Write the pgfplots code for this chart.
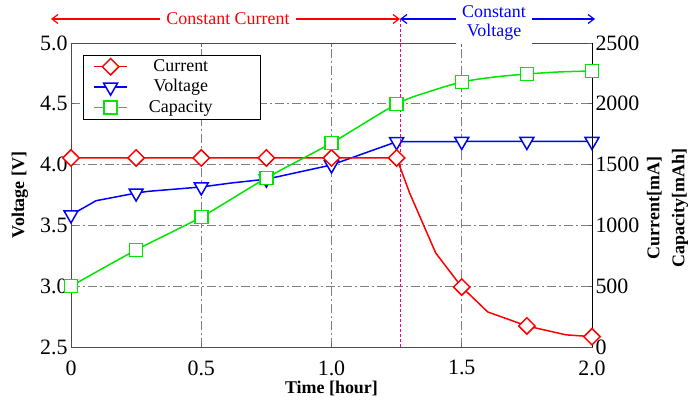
\documentclass[border=0pt]{standalone}
\usepackage{fontspec}
\setmainfont{Liberation Serif}
\usepackage{pgfplots}
\usepackage{pgfplotstable}
\pgfplotsset{compat=1.18}
\usetikzlibrary{arrows.meta}

\pgfplotstableread{
t I
0 1555
0.25 1555
0.5 1555
0.75 1555
1.0 1555
1.25 1555
1.30 1266
1.40 773
1.50 493
1.60 288
1.75 173
1.90 100
2.00 85
}\currentdata

\pgfplotstableread{
t V
0 3.586
0.096 3.703
0.25 3.766
0.296 3.78
0.5 3.816
0.62 3.85
0.75 3.88
1.0 3.997
1.25 4.188
1.5 4.19
1.75 4.19
2.0 4.19
}\voltagedata

\pgfplotstableread{
t C
0 500
0.25 798
0.5 1069
0.75 1390
1.0 1678
1.25 1998
1.375 2100
1.5 2179
1.625 2220
1.75 2245
1.875 2262
2.0 2270
}\capacitydata

\definecolor{mygreen}{RGB}{0,230,0}

\begin{document}
\begin{tikzpicture}
\useasboundingbox (-71bp,-55bp) rectangle (617bp,347bp);
\pgfplotsset{
  common/.style={
    at={(0,0)}, anchor=south west,
    scale only axis, width=521bp, height=304bp,
    xmin=0, xmax=2,
    major tick length=4bp,
    tick style={black!60, line width=0.6bp},
    ticklabel style={font=\fontsize{22}{22}\selectfont},
    /pgf/number format/assume math mode=true,
    /pgf/number format/1000 sep={},
    scaled ticks=false,
    label style={font=\fontsize{18}{25}\selectfont\bfseries},
  }
}
\begin{axis}[common,
  ymin=2.5, ymax=5,
  xtick={0,0.5,1,1.5,2}, xticklabels={0,0.5,1.0,1.5,2.0},
  xticklabel style={yshift=-10bp},
  ytick={2.5,3,3.5,4,4.5,5}, yticklabels={2.5,3.0,3.5,4.0,4.5,5.0},
  ytick pos=left,
  axis line style={black!70, line width=0.9bp},
  grid=major,
  grid style={gray, line width=0.8bp, dash pattern=on 9bp off 3bp on 2bp off 3bp},
  xlabel={Time [hour]},
  xlabel style={at={(rel axis cs:0.5,-0.137)}, anchor=center},
  ylabel={Voltage [V]},
  ylabel style={at={(rel axis cs:-0.098,0.5)}, anchor=center},
]
\addplot[blue, line width=1.5bp, mark=triangle*, mark size=8bp,
  mark options={rotate=180, fill=white, solid},
  mark indices={1,3,5,7,8,9,10,11,12}] table[x=t, y=V] {\voltagedata};
\end{axis}
\begin{axis}[common,
  ymin=0, ymax=2500,
  axis x line=none,
  axis y line*=right,
  axis line style={black, line width=0.9bp},
  ytick={0,500,1000,1500,2000,2500},
  ylabel={Current[mA]\\Capacity[mAh]},
  ylabel style={align=center, at={(rel axis cs:1.145,0.457)}, anchor=center},
  clip=false,
  legend style={draw=black, fill=white, line width=0.7bp,
    at={(rel axis cs:0.023,0.961)}, anchor=north west,
    font=\fontsize{18}{18}\selectfont,
    inner xsep=10bp, inner ysep=3bp, row sep=3.5bp,
    nodes={inner xsep=0bp, inner ysep=0bp, text height=13bp, text depth=4bp}},
  legend cell align=left,
  legend image code/.code={%
    \draw (0bp,0bp) -- (33bp,0bp);
    \draw plot[only marks] coordinates {(16.5bp,0bp)};},
]
\draw[magenta, line width=0.8bp, dash pattern=on 3bp off 2bp] (axis cs:1.263,0) -- (axis cs:1.263,2700);
\addplot[red, line width=1.5bp, mark=square*, mark size=5.8bp,
  mark options={fill=white, solid, rotate=45},
  mark indices={1,2,3,4,5,6,9,11,13}] table[x=t, y=I] {\currentdata};
\addlegendentry{\hspace*{15bp}\makebox[76bp]{Current}\hspace*{32bp}}
\addlegendimage{blue, line width=1.5bp, mark=triangle*, mark size=8bp, mark options={rotate=180, fill=white, solid}}
\addlegendentry{\hspace*{15bp}\makebox[76bp]{Voltage}\hspace*{32bp}}
\addplot[mygreen, line width=1.5bp, smooth, mark=square*, mark size=6.5bp,
  mark options={fill=white, solid},
  mark indices={1,2,3,4,5,6,8,10,12}] table[x=t, y=C] {\capacitydata};
\addlegendentry{\hspace*{15bp}\makebox[76bp]{Capacity}\hspace*{32bp}}
\end{axis}
% phase annotations
\draw[red, line width=1.2bp, {Straight Barb[length=6bp,width=9bp]}-{Straight Barb[length=6bp,width=9bp]}] (-20bp,328bp) -- (329bp,328bp);
\node[red, fill=white, inner xsep=6bp, font=\fontsize{18}{18}\selectfont] at (157bp,328bp) {Constant Current};
\draw[blue, line width=1.2bp, {Straight Barb[length=6bp,width=9bp]}-{Straight Barb[length=6bp,width=9bp]}] (329bp,328bp) -- (524bp,328bp);
\node[blue, fill=white, inner xsep=6bp, align=center, font=\fontsize{18}{19}\selectfont] at (423bp,324bp) {Constant\\Voltage};
\end{tikzpicture}
\end{document}
